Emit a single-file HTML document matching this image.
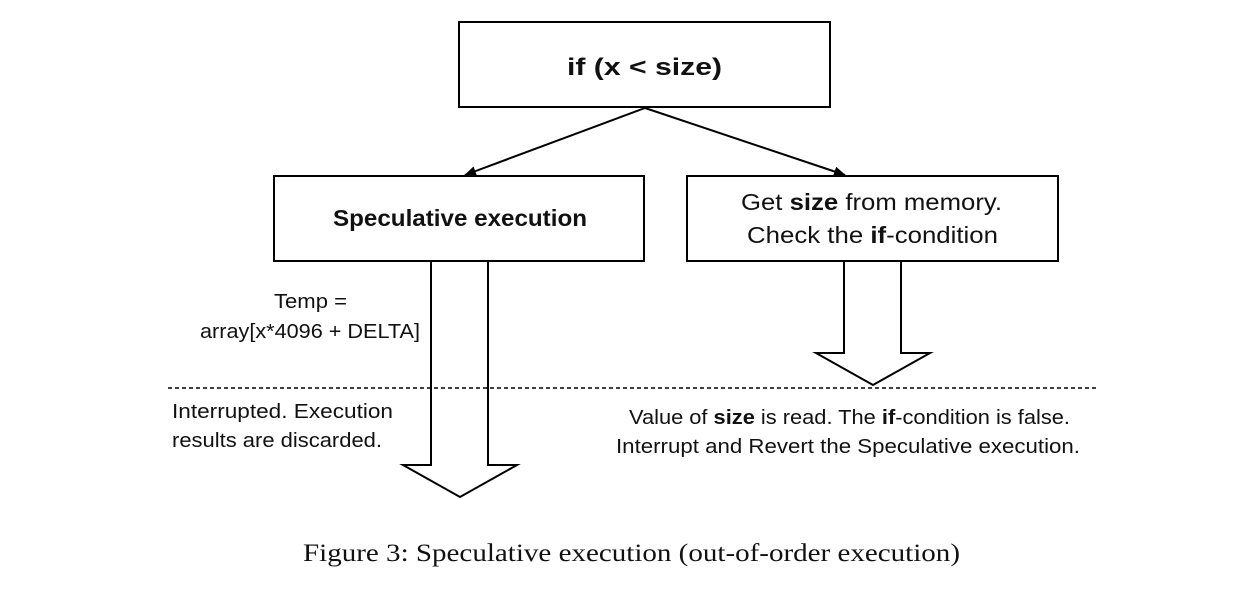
<!DOCTYPE html>
<html><head><meta charset="utf-8"><style>
html,body{margin:0;padding:0;background:#fff;}
svg{display:block}
text{font-family:"Liberation Sans",sans-serif;fill:#111}
</style></head><body>
<svg width="1250" height="592" viewBox="0 0 1250 592" xmlns="http://www.w3.org/2000/svg">
<defs><marker id="ah" markerWidth="12" markerHeight="10" refX="11" refY="5" orient="auto" markerUnits="userSpaceOnUse"><path d="M0,0 L12,5 L0,10 z" fill="#000"/></marker></defs>
<g fill="#fff" stroke="#000" stroke-width="2">
<rect x="459" y="22" width="371" height="85"/>
<rect x="274" y="176" width="370" height="85"/>
<rect x="687" y="176" width="371" height="85"/>
</g>
<line x1="645" y1="108" x2="465" y2="175" stroke="#000" stroke-width="2" marker-end="url(#ah)"/>
<line x1="645" y1="108" x2="845" y2="175" stroke="#000" stroke-width="2" marker-end="url(#ah)"/>
<path d="M431,262 L431,465 L403,465 L460,497 L517,465 L488,465 L488,262" fill="#fff" stroke="#000" stroke-width="2"/>
<path d="M844,262 L844,353 L816,353 L873,385 L930,353 L901,353 L901,262" fill="#fff" stroke="#000" stroke-width="2"/>
<line x1="168" y1="388" x2="1097" y2="388" stroke="#000" stroke-width="1.5" stroke-dasharray="4,3"/>
<text x="567" y="75" font-size="24" font-weight="bold" textLength="155" lengthAdjust="spacingAndGlyphs">if (x &lt; size)</text>
<text x="333" y="226" font-size="23" font-weight="bold" textLength="254" lengthAdjust="spacingAndGlyphs">Speculative execution</text>
<text x="741" y="210" font-size="23" textLength="261" lengthAdjust="spacingAndGlyphs">Get <tspan font-weight="bold">size</tspan> from memory.</text>
<text x="747" y="243" font-size="23" textLength="251" lengthAdjust="spacingAndGlyphs">Check the <tspan font-weight="bold">if</tspan>-condition</text>
<text x="274" y="308" font-size="20" textLength="73" lengthAdjust="spacingAndGlyphs">Temp =</text>
<text x="200" y="338" font-size="20" textLength="220" lengthAdjust="spacingAndGlyphs">array[x*4096 + DELTA]</text>
<text x="172" y="418" font-size="20" textLength="221" lengthAdjust="spacingAndGlyphs">Interrupted. Execution</text>
<text x="172" y="447" font-size="20" textLength="210" lengthAdjust="spacingAndGlyphs">results are discarded.</text>
<text x="629" y="424" font-size="20" textLength="441" lengthAdjust="spacingAndGlyphs">Value of <tspan font-weight="bold">size</tspan> is read. The <tspan font-weight="bold">if</tspan>-condition is false.</text>
<text x="616" y="453" font-size="20" textLength="464" lengthAdjust="spacingAndGlyphs">Interrupt and Revert the Speculative execution.</text>
<text x="303" y="561" font-size="25" textLength="657" lengthAdjust="spacingAndGlyphs" style="font-family:'Liberation Serif',serif">Figure 3: Speculative execution (out-of-order execution)</text>
</svg>
</body></html>
